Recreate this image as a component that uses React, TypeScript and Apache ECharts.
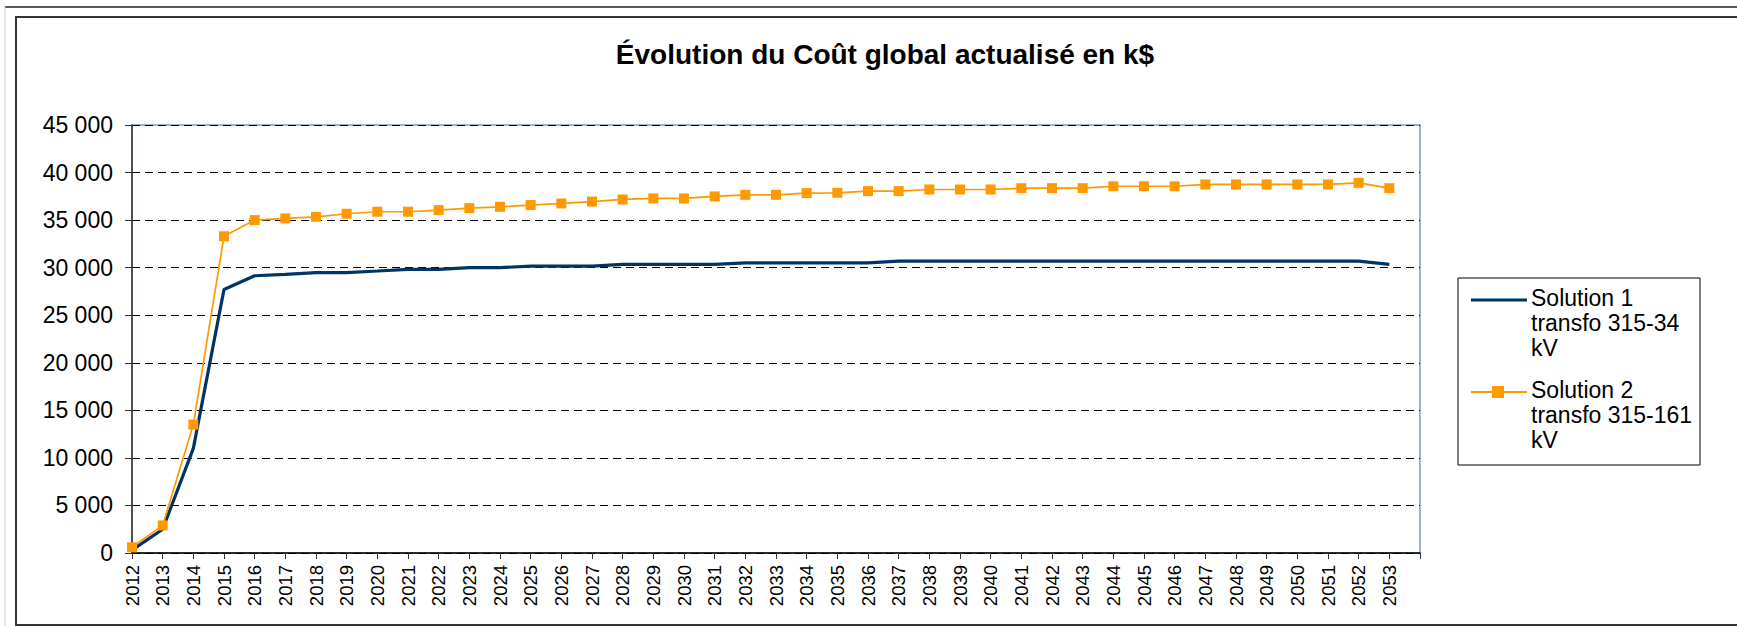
import React, { useEffect, useRef } from "react";
import * as echarts from "echarts";

const titleText = "Évolution du Coût global actualisé en k$";

const categories = [
  "2012", "2013", "2014", "2015", "2016", "2017", "2018", "2019", "2020", "2021",
  "2022", "2023", "2024", "2025", "2026", "2027", "2028", "2029", "2030", "2031",
  "2032", "2033", "2034", "2035", "2036", "2037", "2038", "2039", "2040", "2041",
  "2042", "2043", "2044", "2045", "2046", "2047", "2048", "2049", "2050", "2051",
  "2052", "2053", "",
];

const series1Name = "Solution 1\ntransfo 315-34\nkV";
const series1Values = [
  300, 2500, 11000, 27700, 29150, 29300, 29480, 29480, 29650, 29830,
  29830, 30000, 30000, 30170, 30170, 30170, 30340, 30340, 30340, 30340,
  30510, 30510, 30510, 30510, 30510, 30680, 30680, 30680, 30680, 30680,
  30680, 30680, 30680, 30680, 30680, 30680, 30680, 30680, 30680, 30680,
  30680, 30340, null,
];

const series2Name = "Solution 2\ntransfo 315-161\nkV";
const series2Values = [
  600, 2900, 13500, 33300, 35000, 35180, 35350, 35670, 35880, 35880,
  36050, 36260, 36400, 36580, 36750, 36950, 37170, 37280, 37280, 37490,
  37660, 37660, 37840, 37870, 38050, 38050, 38220, 38220, 38220, 38360,
  38360, 38360, 38560, 38560, 38560, 38750, 38750, 38750, 38750, 38750,
  38920, 38360, null,
];

const yMin = 0;
const yMax = 45000;
const yInterval = 5000;

const FONT = "'Liberation Sans', Arial, Helvetica, sans-serif";
const NAVY = "#003366";
const ORANGE = "#FF9900";

function formatThousands(v: number): string {
  return String(v).replace(/\B(?=(\d{3})+(?!\d))/g, " ");
}

export default function App() {
  const ref = useRef<HTMLDivElement>(null);

  useEffect(() => {
    if (!ref.current) return;
    const chart = echarts.init(ref.current, null, { renderer: "svg" });
    chart.setOption({
      animation: false,
      backgroundColor: "#ffffff",
      title: {
        text: titleText,
        left: 885,
        top: 38,
        textAlign: "center",
        padding: 0,
        textStyle: {
          fontFamily: FONT,
          fontWeight: "bold",
          fontSize: 28,
          lineHeight: 32,
          color: "#000",
        },
      },
      legend: { show: false },
      grid: {
        left: 132,
        top: 125,
        width: 1288,
        height: 428,
        show: true,
        borderColor: "#7f9bb8",
        borderWidth: 1.5,
        backgroundColor: "transparent",
        containLabel: false,
      },
      xAxis: {
        type: "category",
        data: categories,
        boundaryGap: false,
        axisLine: { show: true, lineStyle: { color: "#000", width: 1.5 } },
        axisTick: {
          show: true,
          interval: 0,
          length: 6,
          lineStyle: { color: "#333", width: 1 },
        },
        axisLabel: {
          interval: 0,
          rotate: 90,
          margin: 12,
          fontFamily: FONT,
          fontSize: 18.5,
          color: "#000",
        },
        splitLine: { show: false },
      },
      yAxis: {
        type: "value",
        min: yMin,
        max: yMax,
        interval: yInterval,
        axisLine: { show: true, lineStyle: { color: "#2b3440", width: 1.5 } },
        axisTick: { show: true, length: 7, lineStyle: { color: "#333", width: 1 } },
        axisLabel: {
          margin: 19,
          fontFamily: FONT,
          fontSize: 23,
          color: "#000",
          formatter: (v: number) => formatThousands(v),
        },
        splitLine: {
          show: true,
          lineStyle: { color: "#000", width: 1, type: [8, 5] },
        },
      },
      series: [
        {
          name: series1Name,
          type: "line",
          data: series1Values,
          symbol: "none",
          lineStyle: { color: NAVY, width: 3.2 },
          itemStyle: { color: NAVY },
          z: 3,
        },
        {
          name: series2Name,
          type: "line",
          data: series2Values,
          symbol: "rect",
          symbolSize: 10,
          lineStyle: { color: ORANGE, width: 1.7 },
          itemStyle: { color: ORANGE },
          z: 4,
        },
      ],
      graphic: [
        {
          type: "line",
          shape: { x1: 5, y1: 7, x2: 1737, y2: 7 },
          style: { stroke: "#222", lineWidth: 1.5 },
          silent: true,
        },
        {
          type: "line",
          shape: { x1: 5, y1: 7, x2: 5, y2: 626 },
          style: { stroke: "#d0d0d0", lineWidth: 1 },
          silent: true,
        },
        {
          type: "rect",
          shape: { x: 16, y: 17, width: 1740, height: 608 },
          style: { fill: "none", stroke: "#333", lineWidth: 2 },
          silent: true,
        },
        {
          type: "rect",
          shape: { x: 1458, y: 278, width: 242, height: 187 },
          style: { fill: "#fff", stroke: "#000", lineWidth: 1 },
          silent: true,
        },
        {
          type: "line",
          shape: { x1: 1471, y1: 300, x2: 1527, y2: 300 },
          style: { stroke: NAVY, lineWidth: 3 },
          silent: true,
        },
        {
          type: "text",
          x: 1531,
          y: 285.5,
          style: {
            text: series1Name,
            fontFamily: FONT,
            fontSize: 23,
            lineHeight: 25,
            fill: "#000",
            verticalAlign: "top",
            align: "left",
          },
          silent: true,
        },
        {
          type: "line",
          shape: { x1: 1471, y1: 392, x2: 1527, y2: 392 },
          style: { stroke: ORANGE, lineWidth: 2 },
          silent: true,
        },
        {
          type: "rect",
          shape: { x: 1492.5, y: 386.5, width: 11, height: 11 },
          style: { fill: ORANGE, stroke: ORANGE },
          silent: true,
        },
        {
          type: "text",
          x: 1531,
          y: 377.5,
          style: {
            text: series2Name,
            fontFamily: FONT,
            fontSize: 23,
            lineHeight: 25,
            fill: "#000",
            verticalAlign: "top",
            align: "left",
          },
          silent: true,
        },
      ],
    });
    return () => {
      chart.dispose();
    };
  }, []);

  return (
    <div
      ref={ref}
      style={{
        position: "fixed",
        left: 0,
        top: 0,
        width: 1737,
        height: 626,
        background: "#fff",
      }}
    />
  );
}
